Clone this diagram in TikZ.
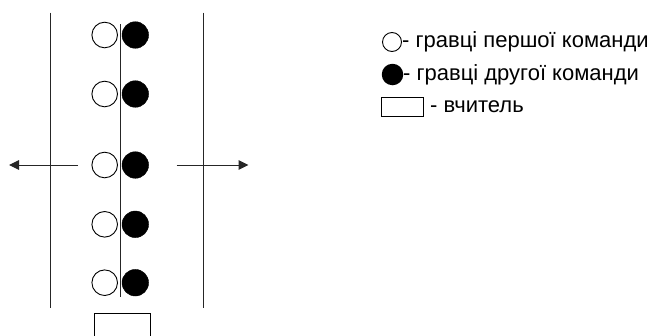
\documentclass[tikz,border=0pt]{standalone}
\usepackage{fontspec}
\setmainfont{Liberation Sans}
\usetikzlibrary{arrows.meta}
\tikzset{
  line/.style={line width=1pt, draw=black!85},
  whiteplayer/.style={circle, draw=black, line width=0.9pt, fill=white, minimum size=25.6pt, inner sep=0pt},
  blackplayer/.style={circle, draw=black, fill=black, minimum size=26.6pt, inner sep=0pt},
  teacher/.style={rectangle, draw=black, line width=0.9pt, fill=white, inner sep=0pt},
  legendtext/.style={anchor=west, inner sep=0pt, font=\fontsize{22}{26}\selectfont},
  pointer/.style={line, -{Triangle[length=10pt,width=9.5pt]}}
}
\begin{document}
\begin{tikzpicture}[x=1pt, y=-1pt]
  \useasboundingbox (0,0) rectangle (655,335);
  \clip (0,0) rectangle (655,335);

  % field boundaries
  \coordinate (lt) at (50.7,12.7);  \coordinate (lb) at (50.7,308);
  \coordinate (rt) at (203.7,12.7); \coordinate (rb) at (203.7,308);
  \draw[line] (lt) -- (lb);
  \draw[line] (rt) -- (rb);

  % middle line
  \coordinate (mt) at (120.7,24); \coordinate (mb) at (120.7,297);
  \draw[line] (mt) -- (mb);

  % running directions
  \coordinate (la) at (78,165);  \coordinate (lz) at (9,165);
  \coordinate (ra) at (176.7,165); \coordinate (rz) at (248.5,165);
  \draw[pointer] (la) -- (lz);
  \draw[pointer] (ra) -- (rz);

  % players in pairs
  \foreach \i/\y in {1/35, 2/94, 3/165, 4/224.3, 5/282.7} {
    \node[whiteplayer] (w\i) at (104.7,\y) {};
    \node[blackplayer] (b\i) at (135.3,\y) {};
  }

  % teacher
  \node[teacher, minimum width=55.7pt, minimum height=30pt, anchor=north west] (t) at (94.3,313.3) {};

  % legend
  \node[circle, draw=black, line width=0.9pt, minimum size=19pt, inner sep=0pt] (lw) at (392,42) {};
  \node[legendtext] (lwt) at (402,42) {- гравці першої команди};
  \node[circle, fill=black, minimum size=21.5pt, inner sep=0pt] (lb2) at (392.5,74.5) {};
  \node[legendtext] (lbt) at (403,75) {- гравці другої команди};
  \node[teacher, minimum width=42.3pt, minimum height=19.4pt] (lr) at (402.2,107) {};
  \node[legendtext] (lrt) at (430,107) {- вчитель};
\end{tikzpicture}
\end{document}
